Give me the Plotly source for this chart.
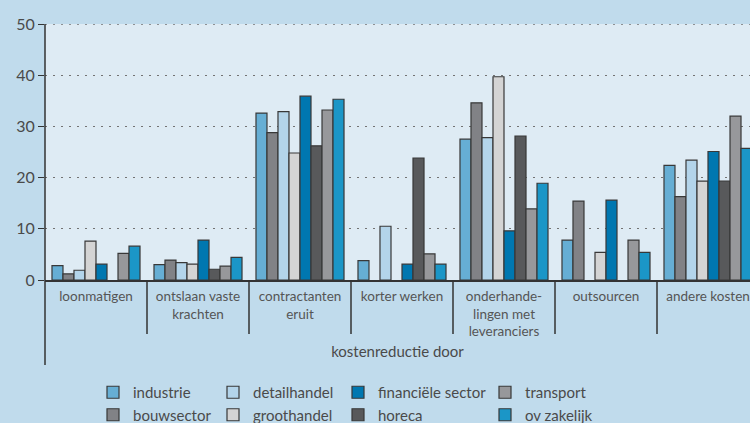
import plotly.graph_objects as go

categories = ["loonmatigen", "ontslaan vaste<br>krachten", "contractanten<br>eruit",
              "korter werken", "onderhande-<br>lingen met<br>leveranciers", "outsourcen",
              "andere kosten"]

industrie = [2.8, 3.0, 32.6, 3.8, 27.5, 7.8, 22.4]
bouwsector = [1.2, 3.9, 28.8, None, 34.6, 15.4, 16.3]
detailhandel = [1.9, 3.4, 32.9, 10.5, 27.8, None, 23.4]
groothandel = [7.6, 3.1, 24.8, None, 39.7, 5.4, 19.3]
financiele = [3.1, 7.8, 35.9, 3.1, 9.6, 15.6, 25.1]
horeca = [None, 2.1, 26.2, 23.8, 28.1, None, 19.3]
transport = [5.2, 2.7, 33.2, 5.1, 13.9, 7.8, 32.0]
ov_zakelijk = [6.6, 4.4, 35.3, 3.1, 18.9, 5.4, 25.7]

series = [
    ("industrie", industrie, "#66aed4", "legend", 1),
    ("bouwsector", bouwsector, "#818286", "legend", 2),
    ("detailhandel", detailhandel, "#b3d4ea", "legend2", 1),
    ("groothandel", groothandel, "#d4d4d4", "legend2", 2),
    ("financiële sector", financiele, "#0077b0", "legend3", 1),
    ("horeca", horeca, "#58595b", "legend3", 2),
    ("transport", transport, "#97989b", "legend4", 1),
    ("ov zakelijk", ov_zakelijk, "#1b96c7", "legend4", 2),
]

y_ticks = [0, 10, 20, 30, 40, 50]
Y_MAX = 50

fig = go.Figure()
for name, vals, color, leg, rank in series:
    fig.add_trace(go.Bar(
        name=name, x=list(range(len(categories))), y=vals,
        marker=dict(color=color, line=dict(color="#383838", width=1.2)),
        legend=leg, legendrank=rank,
    ))

TEXT = "#4a4a4a"
GRID = "#737373"
PLOT_LEFT = 45
PLOT_TOP, PLOT_BOTTOM = 24, 280
PH = PLOT_BOTTOM - PLOT_TOP
PW = 750 - PLOT_LEFT


def py(pix):
    return (PLOT_BOTTOM - pix) / PH


def px(pix):
    return (pix - PLOT_LEFT) / PW


legend_common = dict(orientation="v", yanchor="top", xanchor="left",
                     font=dict(family="Lato, Open Sans, sans-serif", size=15, color=TEXT),
                     bgcolor="rgba(0,0,0,0)", tracegroupgap=0, itemwidth=30)
legend_text_x = {"legend": 133, "legend2": 253, "legend3": 378, "legend4": 525}

fig.update_layout(
    width=750, height=423,
    margin=dict(l=PLOT_LEFT, r=0, t=PLOT_TOP, b=423 - PLOT_BOTTOM, autoexpand=False),
    paper_bgcolor="#c0dbec", plot_bgcolor="#deebf4",
    barmode="group", bargap=0.137, bargroupgap=0,
    font=dict(family="Lato, Open Sans, sans-serif", color=TEXT),
    xaxis=dict(
        tickmode="array", tickvals=list(range(len(categories))), ticktext=categories,
        range=[-0.5, -0.5 + PW / 102], showgrid=False, zeroline=False,
        showline=True, linecolor="#333333", linewidth=1.5, ticks="",
        tickfont=dict(size=13.5, color="#555555"), ticklabelstandoff=3,
        automargin=False,
        title=dict(text="kostenreductie door", font=dict(size=15, color=TEXT), standoff=8),
    ),
    yaxis=dict(
        range=[0, Y_MAX], tickvals=y_ticks, showgrid=True, gridcolor=GRID,
        griddash="2px,6px", gridwidth=1.4, zeroline=False, showline=False,
        ticks="outside", ticklen=6, tickcolor="#333333", tickwidth=1.3,
        tickfont=dict(size=16, color=TEXT), automargin=False,
    ),
)
for k, tx in legend_text_x.items():
    fig.layout[k] = dict(x=px(tx - 40), y=py(376), **legend_common)

shapes = [dict(type="line", xref="paper", yref="y", x0=0, x1=1, y0=Y_MAX, y1=Y_MAX,
               line=dict(color=GRID, width=1.4, dash="2px,6px"), layer="below")]
for i in range(len(categories) - 1):
    shapes.append(dict(type="line", xref="x", yref="paper", x0=i + 0.5, x1=i + 0.5,
                       y0=0, y1=py(334), line=dict(color="#333333", width=1.5)))
shapes.append(dict(type="line", xref="paper", yref="paper", x0=0, x1=0,
                   y0=1, y1=py(365), line=dict(color="#333333", width=1.5)))
fig.update_layout(shapes=shapes)

fig.write_html("out.html", config={"displayModeBar": False},
               post_script="document.body.style.margin='0';document.body.style.overflow='hidden';")
